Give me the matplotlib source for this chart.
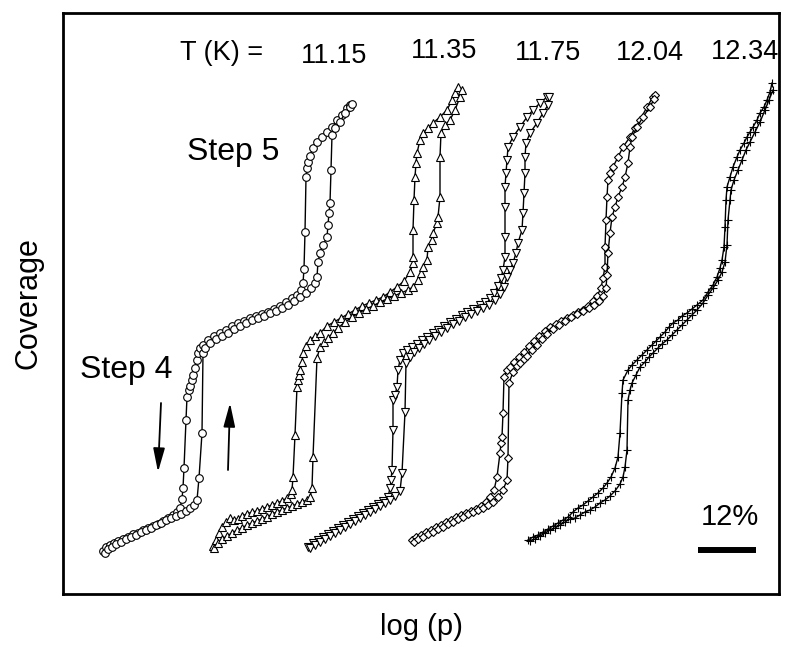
import matplotlib
matplotlib.use("Agg")
import matplotlib.pyplot as plt

plt.rcParams['font.family'] = ['Liberation Sans', 'DejaVu Sans']

# x: log(p), arbitrary offset per isotherm; h: coverage (arbitrary units)
# des = desorption (left) branch, ads = adsorption (right) branch

des_1115_x = [103, 106, 110, 114, 118, 123, 128, 133, 138, 143, 148, 153, 158, 163, 168, 173, 177, 180, 182, 183,
              184, 186, 187, 189, 190, 192, 193, 195, 197, 198, 200, 203, 208, 214, 220, 226, 232, 238, 244, 250,
              256, 262, 268, 274, 280, 286, 292, 297, 301, 303, 304, 305, 306, 307, 308, 310, 313, 317, 322, 327,
              332, 337, 342, 347, 350]
des_1115_h = [49, 53, 55, 57, 59, 61, 63, 66, 67, 70, 72, 74, 76, 79, 82, 85, 88, 92, 101, 112,
              132, 180, 203, 210, 214, 220, 225, 232, 240, 247, 252, 255, 260, 264, 267, 270, 274, 277, 279, 282,
              284, 286, 288, 291, 294, 298, 302, 305, 310, 317, 331, 368, 423, 432, 438, 444, 452, 458, 463, 468,
              473, 480, 485, 492, 495]
ads_1115_x = [105, 108, 112, 116, 121, 126, 131, 136, 141, 146, 151, 156, 161, 166, 171, 176, 181, 186, 190, 194,
              197, 199, 202, 203, 205, 210, 216, 222, 228, 234, 240, 246, 252, 258, 264, 270, 276, 282, 288, 294,
              300, 306, 311, 315, 317, 318, 320, 323, 327, 328, 329, 330, 331, 332, 335, 340, 345, 350, 352]
ads_1115_h = [47, 51, 53, 56, 58, 61, 63, 65, 68, 70, 72, 75, 77, 80, 82, 84, 86, 89, 92, 95,
              100, 122, 167, 247, 252, 257, 261, 264, 267, 271, 274, 277, 280, 282, 284, 287, 289, 292, 295, 299,
              303, 307, 312, 317, 323, 338, 347, 355, 363, 375, 387, 397, 430, 465, 472, 478, 487, 493, 496]

des_1135_x = [213, 216, 219, 222, 226, 230, 234, 238, 242, 247, 252, 257, 262, 267, 272, 277, 282, 287, 291, 292,
              293, 295, 297, 298, 299, 300, 302, 303, 306, 310, 315, 320, 327, 334, 341, 348, 355, 362, 369, 376,
              383, 390, 397, 404, 410, 413, 413, 413, 414, 415, 416, 417, 420, 423, 428, 433, 440, 447, 452, 455,
              458]
des_1135_h = [54, 60, 67, 73, 78, 82, 80, 81, 84, 86, 88, 89, 91, 93, 95, 97, 99, 102, 106, 110,
              123, 165, 213, 220, 225, 230, 238, 247, 254, 260, 264, 267, 274, 278, 282, 286, 290, 294, 297, 300,
              303, 308, 313, 319, 328, 337, 343, 370, 400, 423, 437, 447, 460, 467, 472, 477, 483, 490, 500, 507,
              513]
ads_1135_x = [214, 218, 222, 227, 232, 237, 242, 247, 252, 257, 262, 267, 272, 277, 282, 287, 292, 297, 302, 307,
              310, 312, 313, 317, 320, 324, 328, 333, 338, 345, 352, 359, 366, 373, 380, 387, 394, 401, 408, 413,
              418, 421, 423, 427, 428, 432, 433, 437, 438, 440, 440, 441, 445, 450, 455, 460, 462]
ads_1135_h = [52, 57, 61, 64, 67, 70, 72, 75, 77, 79, 81, 83, 86, 88, 90, 92, 94, 96, 98, 100,
              103, 112, 143, 242, 253, 258, 262, 267, 272, 278, 283, 287, 291, 294, 298, 301, 304, 307, 310, 313,
              320, 327, 333, 340, 353, 360, 367, 377, 383, 403, 443, 467, 475, 480, 490, 503, 510]

des_1175_x = [308, 313, 318, 323, 328, 333, 338, 343, 348, 353, 358, 363, 368, 373, 378, 383, 388, 390, 391, 392,
              393, 393, 395, 397, 398, 400, 403, 407, 412, 417, 422, 427, 433, 438, 444, 450, 456, 462, 467, 473,
              480, 485, 490, 494, 498, 501, 503, 505, 505, 505, 505, 506, 507, 508, 513, 520, 527, 533, 540, 547]
des_1175_h = [53, 57, 60, 63, 66, 69, 72, 75, 78, 81, 84, 87, 90, 93, 96, 99, 103, 112, 120, 130,
              170, 200, 205, 213, 230, 240, 247, 250, 253, 256, 260, 263, 267, 270, 274, 278, 281, 285, 288, 291,
              295, 298, 302, 307, 314, 322, 330, 343, 363, 393, 413, 427, 440, 453, 463, 473, 483, 490, 497, 503]
ads_1175_x = [310, 315, 320, 325, 330, 335, 340, 345, 350, 355, 360, 365, 370, 375, 380, 385, 390, 395, 400,
              402, 405, 406, 410, 414, 419, 424, 429, 435, 441, 447, 453, 459, 465, 471, 477, 483, 489, 495, 500,
              504, 507, 510, 513, 516, 518, 522, 523, 524, 525, 525, 526, 530, 537, 543, 548, 549]
ads_1175_h = [52, 55, 58, 61, 64, 67, 70, 73, 76, 79, 82, 85, 88, 91, 94, 97, 100, 104, 109,
              127, 188, 237, 243, 248, 252, 256, 260, 264, 268, 272, 276, 279, 283, 286, 289, 292, 295, 300, 306,
              313, 323, 330, 337, 347, 357, 370, 387, 407, 427, 443, 457, 467, 477, 487, 495, 503]

des_1204_x = [412, 416, 421, 426, 431, 436, 441, 446, 451, 456, 461, 466, 471, 476, 481, 486, 490, 494, 497, 500,
              501, 502, 503, 504, 507, 510, 514, 519, 524, 529, 534, 539, 545, 550, 556, 561, 567, 573, 578, 583,
              588, 593, 597, 601, 603, 605, 605, 606, 607, 608, 610, 613, 618, 623, 630, 635, 640, 647, 653, 655]
des_1204_h = [60, 63, 65, 68, 70, 73, 75, 78, 80, 83, 85, 87, 89, 91, 94, 98, 103, 110, 123, 147,
              157, 163, 187, 223, 230, 233, 238, 243, 248, 254, 259, 264, 269, 273, 276, 279, 282, 285, 288, 290,
              294, 299, 304, 312, 322, 333, 353, 380, 403, 420, 427, 433, 443, 453, 463, 472, 480, 493, 503, 505]
ads_1204_x = [414, 418, 423, 428, 433, 438, 443, 448, 453, 458, 463, 468, 473, 478, 483, 488, 493, 498, 503, 507,
              508, 509, 513, 517, 520, 524, 527, 532, 537, 542, 547, 553, 559, 565, 571, 577, 583, 589, 594, 599,
              603, 606, 607, 608, 610, 612, 615, 618, 622, 625, 628, 630, 632, 637, 643, 650, 654]
ads_1204_h = [58, 61, 63, 66, 68, 71, 73, 76, 78, 81, 83, 86, 88, 90, 92, 95, 98, 103, 110, 120,
              142, 217, 228, 234, 237, 241, 244, 250, 255, 261, 266, 271, 275, 279, 283, 286, 289, 292, 295, 299,
              304, 312, 325, 347, 367, 383, 393, 403, 413, 423, 437, 453, 463, 473, 483, 493, 501]

des_1234_x = [528, 533, 538, 543, 548, 553, 558, 563, 568, 573, 578, 583, 588, 593, 598, 603, 607, 611, 615, 618,
              620, 622, 623, 628, 632, 637, 642, 647, 652, 656, 660, 665, 669, 673, 678, 682, 687, 692, 697, 703,
              708, 713, 717, 720, 722, 724, 725, 726, 727, 730, 733, 737, 740, 744, 747, 750, 753, 757, 760, 764,
              767, 770, 772]
des_1234_h = [60, 63, 65, 68, 71, 74, 77, 80, 83, 88, 92, 95, 99, 103, 107, 112, 117, 123, 132, 143,
              167, 207, 220, 230, 235, 240, 245, 250, 255, 259, 263, 268, 273, 277, 280, 284, 287, 291, 295, 300,
              308, 315, 323, 332, 340, 353, 373, 400, 413, 423, 433, 443, 450, 457, 463, 468, 473, 480, 487, 493,
              500, 508, 517]
ads_1234_x = [530, 535, 540, 545, 550, 555, 560, 565, 570, 575, 580, 585, 590, 595, 600, 605, 610, 615, 620, 623,
              625, 627, 628, 630, 632, 636, 640, 645, 649, 653, 658, 662, 667, 672, 677, 682, 687, 692, 697, 703,
              708, 713, 718, 722, 725, 727, 728, 730, 731, 734, 738, 742, 746, 750, 755, 760, 765, 769, 773]
ads_1234_h = [59, 61, 64, 67, 70, 72, 75, 78, 81, 82, 85, 88, 90, 93, 97, 100, 104, 109, 116, 123,
              133, 150, 200, 210, 217, 225, 233, 238, 243, 247, 252, 256, 260, 265, 270, 275, 280, 285, 290, 297,
              305, 312, 320, 328, 338, 355, 380, 400, 410, 420, 430, 440, 450, 458, 468, 478, 490, 500, 510]

temps = ["11.15", "11.35", "11.75", "12.04", "12.34"]
temp_x = [334, 444, 548, 650, 745]
temp_h = [544, 549, 547, 547, 548]

curves = [
    (des_1115_x, des_1115_h, ads_1115_x, ads_1115_h, 'o', 5.5),
    (des_1135_x, des_1135_h, ads_1135_x, ads_1135_h, '^', 6),
    (des_1175_x, des_1175_h, ads_1175_x, ads_1175_h, 'v', 6),
    (des_1204_x, des_1204_h, ads_1204_x, ads_1204_h, 'D', 4.5),
    (des_1234_x, des_1234_h, ads_1234_x, ads_1234_h, '+', 6),
]

fig = plt.figure(figsize=(7.91, 6.46), dpi=100)
ax = fig.add_axes([63 / 791, 52 / 646, 716 / 791, 581 / 646])

for dx, dh, axx, ah, mk, ms in curves:
    for xs, hs in ((dx, dh), (axx, ah)):
        ax.plot(xs, hs, color='black', lw=1.0, marker=mk, ms=ms,
                mfc='white', mec='black', mew=0.8)

ax.set_xlim(63, 779)
ax.set_ylim(6, 587)
ax.set_xticks([])
ax.set_yticks([])
for sp in ax.spines.values():
    sp.set_linewidth(2)

ax.text(222, 547, "T (K) =", fontsize=19.5, ha='center', va='center')
for t, tx, th in zip(temps, temp_x, temp_h):
    ax.text(tx, th, t, fontsize=19.5, ha='center', va='center')

ax.text(187, 440, "Step 5", fontsize=23, ha='left', va='baseline')
ax.text(80, 222, "Step 4", fontsize=23, ha='left', va='baseline')

arrow = dict(arrowstyle='-|>,head_length=0.9,head_width=0.22', color='black', lw=1.3,
             shrinkA=0, shrinkB=0, mutation_scale=16)
ax.annotate('', xy=(158, 128), xytext=(161, 197), arrowprops=arrow)
ax.annotate('', xy=(230, 197), xytext=(228, 130), arrowprops=arrow)

# scale bar
ax.plot([698, 756], [50, 50], color='black', lw=4.3, solid_capstyle='butt')
ax.text(730, 75, "12%", fontsize=21, ha='center', va='baseline')

ax.set_xlabel("log (p)", fontsize=21, labelpad=14)
ax.set_ylabel("Coverage", fontsize=22, labelpad=14)

fig.savefig("out.png", dpi=100)
